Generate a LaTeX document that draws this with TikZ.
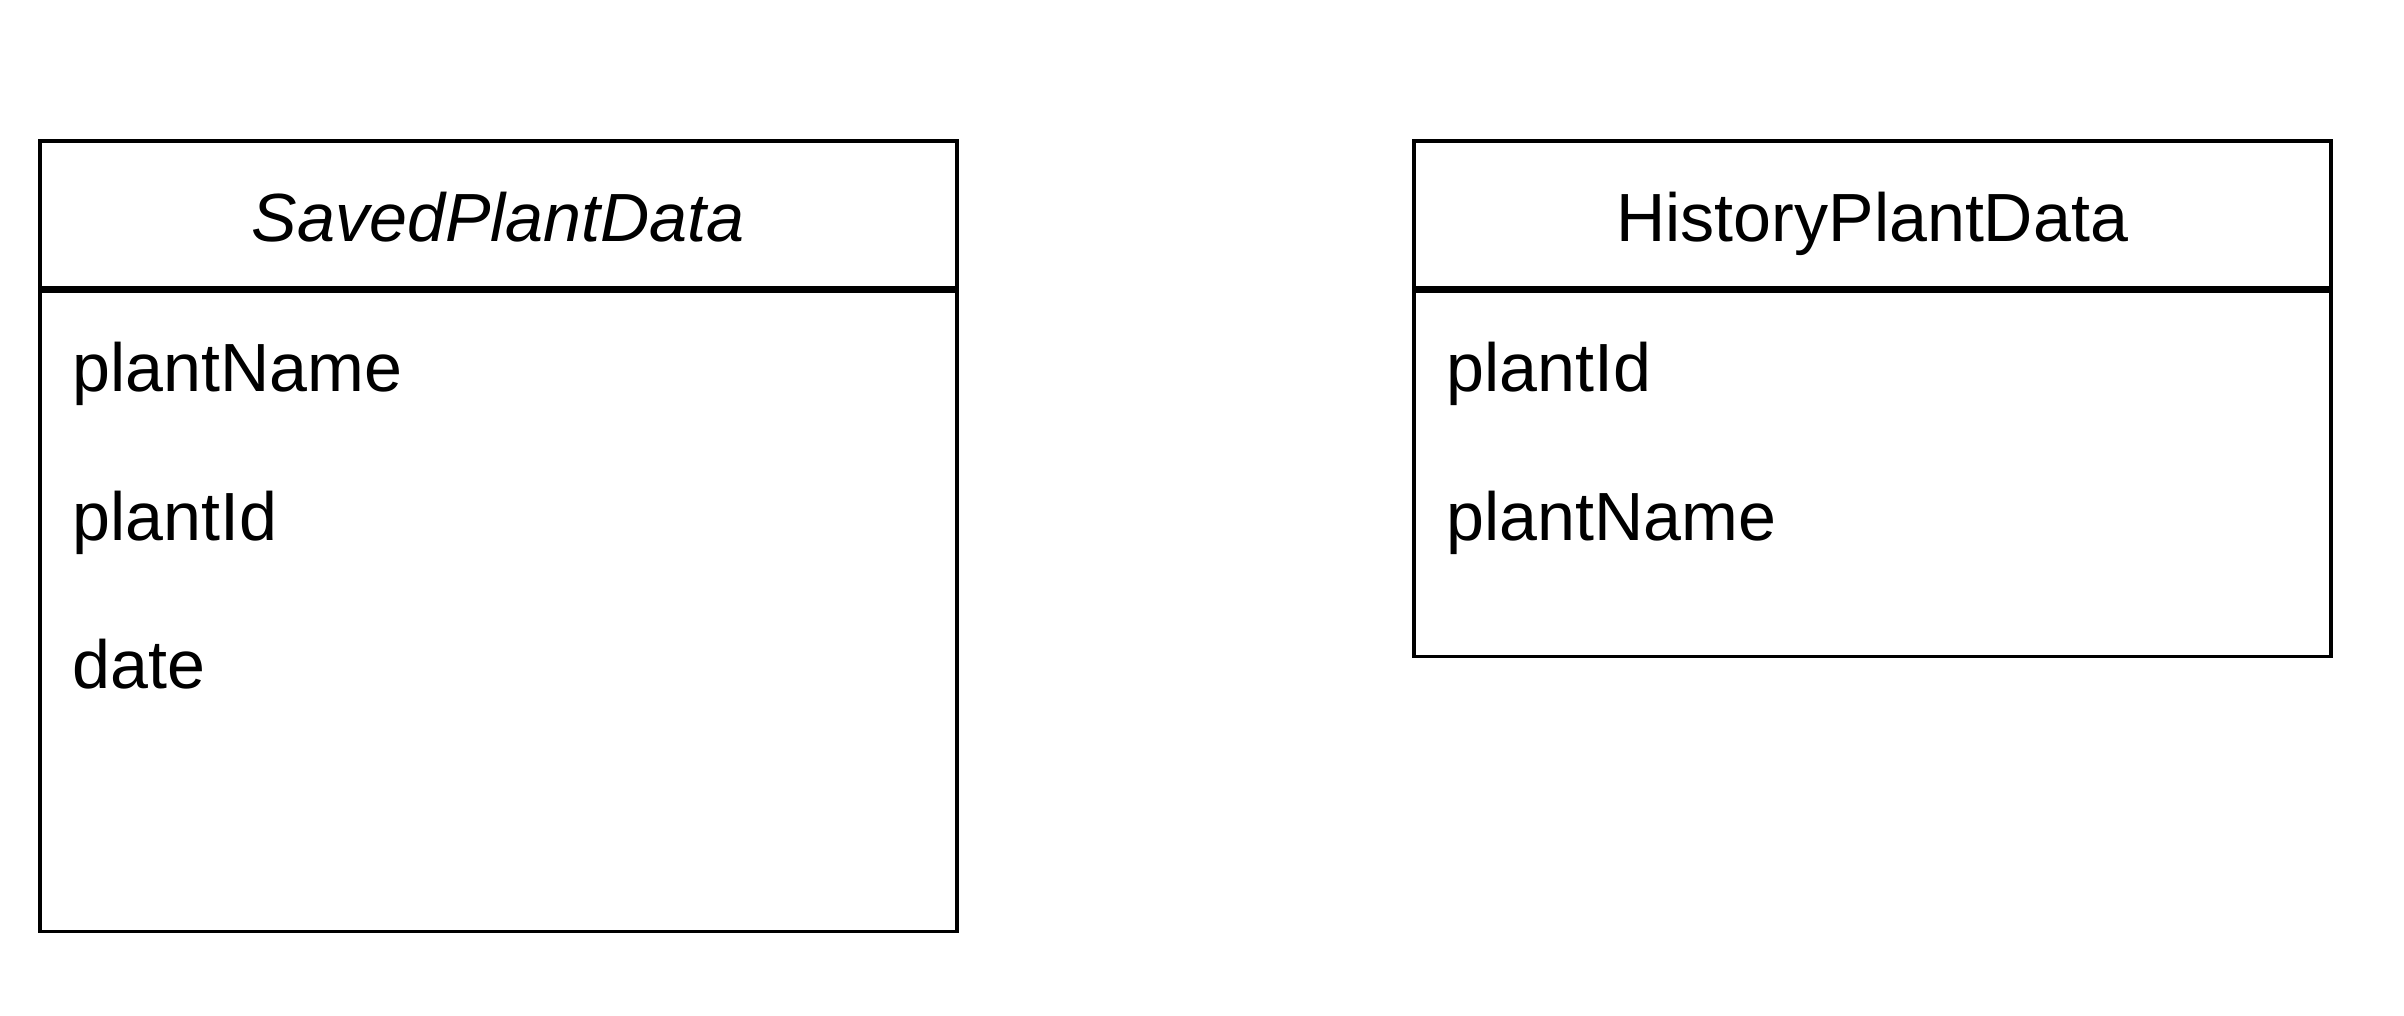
\documentclass[tikz,border=0pt]{standalone}
\usepackage{fontspec}
\setmainfont{Liberation Sans}
\usepackage{tikz}
\usetikzlibrary{positioning}
\tikzstyle{classhead} = [draw, line width=1pt, minimum width=9.17cm, minimum height=1.47cm, inner sep=0pt, anchor=north west]
\tikzstyle{classbody} = [draw, line width=1pt, minimum width=9.17cm, inner sep=0pt, anchor=north west]
\tikzstyle{title} = [anchor=base, inner sep=0pt, font=\fontsize{19.4}{23}\selectfont]
\tikzstyle{attr} = [anchor=base west, inner sep=0pt, font=\fontsize{19.4}{23}\selectfont]
\begin{document}
\begin{tikzpicture}
  \def\savedx{0.38}
  \def\histx{14.12}
  \def\topy{8.77}
  \useasboundingbox (0,0) rectangle (24.04,10.16);
  % SavedPlantData
  \node[classhead] (savedhead) at (\savedx,\topy) {};
  \node[classbody, minimum height=6.40cm] (savedbody) at (savedhead.south west) {};
  \node[title] (savedtitle) at ([yshift=-0.275cm]savedhead.center) {\textit{SavedPlantData}};
  \node[attr] (savedname) at ([xshift=0.34cm,yshift=-1.02cm]savedbody.north west) {plantName};
  \node[attr] (savedid) at ([yshift=-1.485cm]savedname.base west) {plantId};
  \node[attr] (saveddate) at ([yshift=-1.485cm]savedid.base west) {date};
  % HistoryPlantData
  \node[classhead] (histhead) at (\histx,\topy) {};
  \node[classbody, minimum height=3.65cm] (histbody) at (histhead.south west) {};
  \node[title] (histtitle) at ([yshift=-0.275cm]histhead.center) {HistoryPlantData};
  \node[attr] (histid) at ([xshift=0.34cm,yshift=-1.02cm]histbody.north west) {plantId};
  \node[attr] (histname) at ([yshift=-1.485cm]histid.base west) {plantName};
\end{tikzpicture}
\end{document}
